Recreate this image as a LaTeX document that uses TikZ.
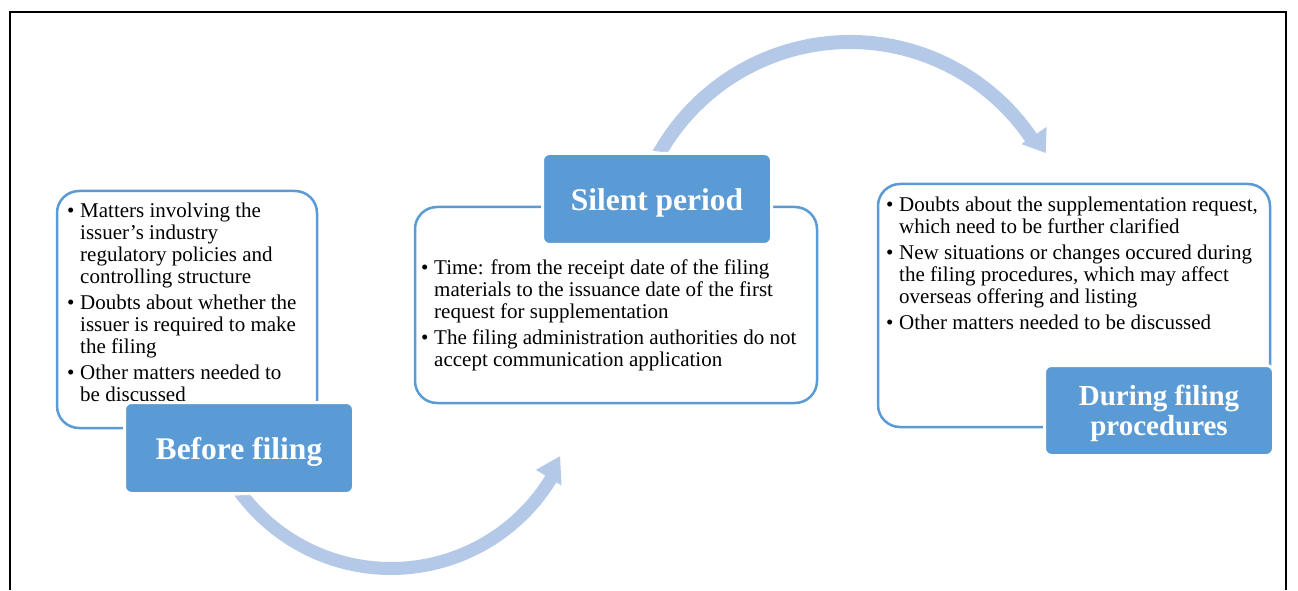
\documentclass[tikz,border=0pt]{standalone}
\usepackage{fontspec}
\setmainfont{Liberation Serif}
\definecolor{acc}{HTML}{5B9BD5}
\definecolor{arrc}{RGB}{180,201,232}
\newcommand{\bitem}[1]{\makebox[13pt][l]{\textbullet}\begin{tabular}[t]{@{}l@{}}#1\end{tabular}}
\newcommand{\lowered}[2]{\raisebox{-#1}[\height][\depth]{#2}}
\begin{document}
\begin{tikzpicture}[x=1pt,y=1pt,
  tbox/.style={draw=acc, line width=2.5pt, rounded corners=22pt, fill=white, inner sep=0pt},
  lbox/.style={fill=acc, draw=white, line width=3pt, rounded corners=7pt, text=white,
    font=\bfseries\fontsize{31.5}{33}\selectfont, align=center, inner sep=0pt,
    minimum width=229pt, minimum height=91pt},
  txt/.style={anchor=north west, inner sep=0pt, align=left, font=\fontsize{21}{22}\selectfont, text=black},
  band/.style={fill=arrc},
  framel/.style={line width=2pt, draw=black}]
\useasboundingbox (0,0) rectangle (1298,590);
% frame
\draw[framel] (10,0) -- (10,578) -- (1286,578) -- (1286,0);
% arrow centres
\coordinate (c1) at (391,209);
\coordinate (c2) at (850,329);
\begin{scope}[shift={(c1)}]
\fill[band] (216.2:194) arc (216.2:328.5:194pt) -- (328.5:200) -- (336:185) -- (328.5:170) -- (328.5:181) arc (328.5:218.9:181pt) -- cycle;
\end{scope}
\begin{scope}[shift={(c2)}]
\fill[band] (150.8:226) arc (150.8:34.3:226pt) -- (34.3:238) -- (28.9:223.5) -- (34.3:207.5) -- (34.3:212) arc (34.3:149.3:212pt) -- cycle;
\end{scope}
% content boxes
\node[tbox, minimum width=260pt, minimum height=237pt] (b1) at (187,280.5) {};
\node[tbox, minimum width=402pt, minimum height=196pt] (b2) at (616,285) {};
\node[tbox, minimum width=392pt, minimum height=243pt] (b3) at (1074,284.5) {};
% texts
\node[txt] (t1) at (67,387.9) {\bitem{Matters involving the\\issuer’s industry\\regulatory policies and\\controlling structure}\\[2.8pt]
\bitem{Doubts about whether the\\issuer is required to make\\the filing}\\[2.8pt]
\bitem{Other matters needed to\\be discussed}};
\node[txt] (t2) at (421,331.2) {\bitem{Time: from the receipt date of the filing\\materials to the issuance date of the first\\request for supplementation}\\[2.8pt]
\bitem{The filing administration authorities do not\\accept communication application}};
\node[txt] (t3) at (886,394.2) {\bitem{Doubts about the supplementation request,\\which need to be further clarified}\\[2.8pt]
\bitem{New situations or changes occured during\\the filing procedures, which may affect\\overseas offering and listing}\\[2.8pt]
\bitem{Other matters needed to be discussed}};
% labels
\node[lbox] (l1) at (239,142) {\lowered{3.5pt}{Before filing}};
\node[lbox] (l2) at (657,391) {\lowered{3.5pt}{Silent period}};
\node[lbox, minimum height=90pt, font=\bfseries\fontsize{29}{30}\selectfont] (l3) at (1159,179.5) {\lowered{4pt}{\begin{tabular}{@{}c@{}}During filing\\procedures\end{tabular}}};
\end{tikzpicture}
\end{document}
